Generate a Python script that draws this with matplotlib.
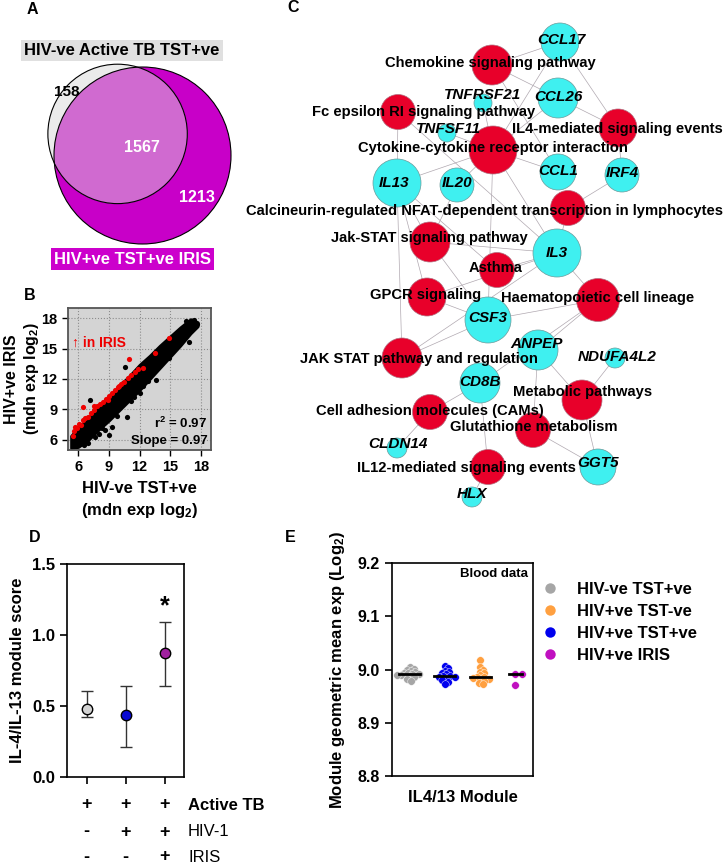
import numpy as np
import matplotlib
matplotlib.use("Agg")
import matplotlib.pyplot as plt
import matplotlib.transforms as mtrans
from matplotlib.patches import Circle
from matplotlib.lines import Line2D

plt.rcParams["font.family"] = ["Liberation Sans", "DejaVu Sans"]
plt.rcParams["font.weight"] = "bold"
plt.rcParams["axes.labelweight"] = "bold"
plt.rcParams["mathtext.fontset"] = "custom"
plt.rcParams["mathtext.rm"] = "Liberation Sans:bold"
plt.rcParams["mathtext.it"] = "Liberation Sans:italic:bold"
plt.rcParams["mathtext.bf"] = "Liberation Sans:bold"

#? ---- A: Venn counts
venn_only_tb = 158
venn_both = 1567
venn_only_iris = 1213

#? ---- B: scatter (data units)
band_x = [5.3, 6.0, 7.0, 8.0, 9.0, 10.0, 11.0, 12.0, 13.0, 14.0, 15.0, 16.0, 17.0, 17.7]
band_lo = [5.2, 5.3, 6.0, 7.0, 7.9, 8.9, 9.9, 10.9, 12.0, 13.1, 14.2, 15.3, 16.5, 17.2]
band_hi = [6.4, 7.2, 8.2, 9.2, 10.2, 11.3, 12.3, 13.4, 14.3, 15.3, 16.2, 17.1, 17.9, 17.6]
black_x = [10.6, 14.1, 7.2, 10.8, 8.0, 9.0, 9.3, 7.0, 13.6, 14.9, 10.4, 12.3, 6.6, 8.6, 11.5, 16.8, 17.3, 6.2, 5.8,
           12.8, 16.6, 17.6, 7.6, 9.8, 12.0, 6.9, 8.3, 11.2]
black_y = [13.2, 13.9, 9.9, 8.3, 6.6, 6.5, 7.3, 5.7, 11.9, 14.1, 11.6, 11.3, 5.5, 7.0, 10.2, 15.6, 17.8, 5.6, 5.4,
           11.8, 17.7, 17.4, 6.3, 8.4, 10.6, 6.1, 7.2, 9.8]
red_x = [5.5, 5.6, 5.7, 5.9, 6.1, 6.3, 6.5, 6.7, 7.0, 7.3, 7.5, 7.8, 8.1, 8.4, 8.7, 9.0, 9.3,
         9.6, 9.9, 10.2, 10.5, 10.9, 11.2, 11.6, 11.9, 12.3, 13.5, 14.9, 6.5, 7.5, 11.0, 8.9, 10.0]
red_y = [6.4, 6.9, 7.3, 7.2, 7.6, 7.5, 8.0, 8.2, 8.3, 8.6, 8.9, 9.3, 9.5, 9.7, 10.0, 10.3, 10.6,
         10.9, 11.2, 11.5, 11.7, 12.1, 12.4, 12.7, 13.0, 13.1, 14.6, 16.0, 9.25, 9.3, 14.0, 9.9, 11.3]
b_ticks = [6, 9, 12, 15, 18]

#? ---- C: network (pixel layout of the panel)
path_names = ["Chemokine signaling pathway", "Fc epsilon RI signaling pathway", "IL4-mediated signaling events",
              "Cytokine-cytokine receptor interaction", "Calcineurin-regulated NFAT-dependent transcription in lymphocytes",
              "Jak-STAT signaling pathway", "Asthma", "GPCR signaling", "Haematopoietic cell lineage",
              "JAK STAT pathway and regulation", "Metabolic pathways", "Cell adhesion molecules (CAMs)",
              "Glutathione metabolism", "IL12-mediated signaling events"]
path_keys = ["chemo", "fc", "il4", "cyto", "calc", "jak", "asthma", "gpcr", "haem", "jakp", "metab", "cams", "glut", "il12"]
path_x = [492, 398, 618, 493, 568, 430, 497, 427, 598, 402, 582, 430, 533, 488]
path_y = [65, 112, 128, 150, 208, 242, 270, 297, 300, 358, 400, 412, 430, 467]
path_r = [20, 17.5, 19, 24, 17.5, 20, 17.5, 19, 21.5, 20, 20, 17.5, 17.5, 17.5]
path_lx = [490, 424, 617, 493, 484, 429, 496, 426, 598, 419, 583, 430, 534, 466]
path_ly = [63, 112, 129, 148, 211, 238, 268, 295, 298, 359, 392, 411, 427, 468]

gene_names = ["CCL17", "TNFRSF21", "CCL26", "TNFSF11", "CCL1", "IRF4", "IL13", "IL20", "IL3", "CSF3",
              "ANPEP", "NDUFA4L2", "CD8B", "CLDN14", "GGT5", "HLX"]
gene_x = [560, 483, 558, 447, 558, 622, 397, 457, 557, 488, 538, 615, 480, 397, 598, 472]
gene_y = [42, 103, 98, 133, 172, 175, 183, 185, 253, 320, 350, 358, 383, 448, 467, 497]
gene_r = [19, 9, 20, 9, 18, 17, 24, 17, 24, 23, 20, 10, 20, 10, 18, 10]
gene_lx = [561, 483, 558, 448, 558, 622, 394, 457, 557, 488, 537, 617, 480, 398, 598, 472]
gene_ly = [40, 95, 97, 129, 171, 173, 183, 183, 253, 318, 344, 357, 382, 444, 463, 494]

edges = [("chemo", "CCL17"), ("chemo", "CCL26"), ("chemo", "CCL1"),
         ("il4", "CCL17"), ("il4", "CCL26"), ("il4", "IRF4"),
         ("cyto", "CCL17"), ("cyto", "CCL26"), ("cyto", "CCL1"), ("cyto", "TNFSF11"), ("cyto", "TNFRSF21"),
         ("cyto", "IL13"), ("cyto", "IL20"), ("cyto", "IL3"), ("cyto", "CSF3"),
         ("fc", "IL13"), ("fc", "IL3"), ("calc", "IRF4"), ("calc", "IL3"),
         ("jak", "IL13"), ("jak", "IL20"), ("jak", "IL3"), ("jak", "CSF3"),
         ("asthma", "IL3"), ("asthma", "IL13"), ("gpcr", "IL3"), ("gpcr", "CSF3"), ("gpcr", "IL13"),
         ("haem", "IL3"), ("haem", "CSF3"), ("haem", "ANPEP"), ("haem", "CD8B"),
         ("jakp", "IL13"), ("jakp", "CSF3"), ("jakp", "IL3"),
         ("metab", "ANPEP"), ("metab", "NDUFA4L2"), ("metab", "GGT5"),
         ("glut", "ANPEP"), ("glut", "GGT5"), ("cams", "CD8B"), ("cams", "CLDN14"),
         ("il12", "CD8B"), ("il12", "HLX")]

#? ---- D: module score
d_pos = [1, 2, 3]
d_mean = [0.48, 0.435, 0.875]
d_lo = [0.425, 0.213, 0.643]
d_hi = [0.608, 0.641, 1.095]
d_colors = ["#d3d3d3", "#0a0ad2", "#a0209f"]
d_rows = ["Active TB", "HIV-1", "IRIS"]
d_signs = [["+", "+", "+"], ["-", "+", "+"], ["-", "-", "+"]]

#? ---- E: blood data
e_groups = ["HIV-ve TST+ve", "HIV+ve TST+ve", "HIV+ve TST-ve", "HIV+ve IRIS"]
e_colors = {"HIV-ve TST+ve": "#a6a6a6", "HIV+ve TST-ve": "#ffa040",
            "HIV+ve TST+ve": "#0000ee", "HIV+ve IRIS": "#c010c0"}
gray_vals = [9.004, 9.001, 8.999, 8.997, 8.995, 8.994, 8.993, 8.992, 8.991, 8.990, 8.989, 8.987, 8.985, 8.982, 8.979]
blue_vals = [9.006, 9.002, 8.998, 8.996, 8.993, 8.991, 8.988, 8.987, 8.986, 8.985, 8.983, 8.980, 8.977, 8.973]
orange_vals = [9.017, 9.004, 9.000, 8.996, 8.993, 8.989, 8.986, 8.985, 8.984, 8.983, 8.981, 8.978, 8.975, 8.972]
purple_vals = [8.991, 8.991, 8.970]
e_vals = [gray_vals, blue_vals, orange_vals, purple_vals]
legend_order = ["HIV-ve TST+ve", "HIV+ve TST-ve", "HIV+ve TST+ve", "HIV+ve IRIS"]

W, H = 726, 866
fig = plt.figure(figsize=(W / 100, H / 100), dpi=100)
bg = fig.add_axes([0, 0, 1, 1])
bg.set_xlim(0, W)
bg.set_ylim(H, 0)
bg.axis("off")


def px_axes(x0, y0, x1, y1):
    return fig.add_axes([x0 / W, 1 - y1 / H, (x1 - x0) / W, (y1 - y0) / H])


for lab, lx, ly in [("A", 32, 9), ("B", 30, 295), ("C", 293, 8), ("D", 35, 538), ("E", 290, 538)]:
    bg.text(lx, ly, lab, fontsize=11.5, ha="center", va="center")

#? ---------------- A
set_tb = venn_only_tb + venn_both
set_iris = venn_only_iris + venn_both
r_big = 88.5
r_small = r_big * np.sqrt(set_tb / set_iris)


def lens(r1, r2, d):
    a1 = r1 ** 2 * np.arccos((d ** 2 + r1 ** 2 - r2 ** 2) / (2 * d * r1))
    a2 = r2 ** 2 * np.arccos((d ** 2 + r2 ** 2 - r1 ** 2) / (2 * d * r2))
    a3 = 0.5 * np.sqrt((-d + r1 + r2) * (d + r1 - r2) * (d - r1 + r2) * (d + r1 + r2))
    return a1 + a2 - a3


target = venn_both / set_tb * np.pi * r_small ** 2
lo, hi = r_big - r_small + 1e-6, r_big + r_small - 1e-6
for _ in range(60):
    mid = (lo + hi) / 2
    if lens(r_small, r_big, mid) > target:
        lo = mid
    else:
        hi = mid
dist = (lo + hi) / 2
big_c = np.array([142.5, 155.5])
u = np.array([-22.5, -19.5]) / np.hypot(22.5, 19.5)
small_c = big_c + dist * u

big = Circle(big_c, r_big, fc="#c800c8", ec="none")
bg.add_patch(big)
bg.add_patch(Circle(small_c, r_small, fc="#ebebeb", ec="none"))
inter = Circle(small_c, r_small, fc="#d06ad0", ec="none")
bg.add_patch(inter)
inter.set_clip_path(big)
bg.add_patch(Circle(big_c, r_big, fill=False, ec="black", lw=0.8))
bg.add_patch(Circle(small_c, r_small, fill=False, ec="black", lw=0.8))
bg.text(67, 92, str(venn_only_tb), fontsize=11, ha="center", va="center")
bg.text(142, 147, str(venn_both), fontsize=11.5, color="white", ha="center", va="center")
bg.text(197, 197, str(venn_only_iris), fontsize=11.5, color="white", ha="center", va="center")
bg.text(122, 50.5, "HIV-ve Active TB TST+ve", fontsize=12, ha="center", va="center",
        bbox=dict(boxstyle="square,pad=0.2", fc="#e0e0e0", ec="none"))
bg.text(132.5, 259, "HIV+ve TST+ve IRIS", fontsize=12, color="white", ha="center", va="center",
        bbox=dict(boxstyle="square,pad=0.2", fc="#cc00cc", ec="none"))

#? ---------------- C
pos = {}
for k, x, y in zip(path_keys, path_x, path_y):
    pos[k] = (x, y)
for k, x, y in zip(gene_names, gene_x, gene_y):
    pos[k] = (x, y)
for a, b in edges:
    bg.plot([pos[a][0], pos[b][0]], [pos[a][1], pos[b][1]], color="#b0a8b0", lw=0.5, zorder=1)
for x, y, r in zip(path_x, path_y, path_r):
    bg.add_patch(Circle((x, y), r, fc="#e8002a", ec="#b07080", lw=0.5, zorder=2))
for x, y, r in zip(gene_x, gene_y, gene_r):
    bg.add_patch(Circle((x, y), r, fc="#3ff0f0", ec="#6a9a9a", lw=0.5, zorder=2))
for name, x, y in zip(path_names, path_lx, path_ly):
    bg.text(x, y, name, fontsize=10.6, ha="center", va="center", zorder=3)
for name, x, y in zip(gene_names, gene_lx, gene_ly):
    bg.text(x, y, name, fontsize=11, style="italic", ha="center", va="center", zorder=3)

#? ---------------- B
ax_b = px_axes(68, 308, 211, 450)
ax_b.set_facecolor("#d4d4d4")
ax_b.fill_between(band_x, band_lo, band_hi, color="black", lw=2, zorder=2)
ax_b.scatter(black_x, black_y, s=14, color="black", lw=0, zorder=2)
ax_b.scatter(red_x, red_y, s=14, color="#ee0000", lw=0, zorder=3)
ax_b.set_xlim(5, 19)
ax_b.set_ylim(5, 19)
ax_b.set_xticks(b_ticks)
ax_b.set_yticks(b_ticks)
ax_b.grid(True, ls=":", color="#8c8c8c", lw=0.8)
ax_b.set_axisbelow(True)
ax_b.tick_params(labelsize=10.5, length=4, width=1, direction="out")
for s in ax_b.spines.values():
    s.set_linewidth(1.3)
    s.set_color("#555555")
ax_b.text(5.4, 15.6, "\u2191 in IRIS", color="#ee0000", fontsize=10, va="center")
ax_b.text(0.975, 0.19, "r$^2$ = 0.97", transform=ax_b.transAxes, ha="right", va="center", fontsize=9.5)
ax_b.text(0.975, 0.065, "Slope = 0.97", transform=ax_b.transAxes, ha="right", va="center", fontsize=9.5)
ax_b.set_xlabel("HIV-ve TST+ve\n(mdn exp log$_2$)", fontsize=12, labelpad=5, linespacing=1.3)
ax_b.set_ylabel("HIV+ve IRIS\n(mdn exp log$_2$)", fontsize=11.5, labelpad=0, linespacing=1.25)

#? ---------------- D
ax_d = px_axes(67, 564, 184, 777)
for p, m, l, h, c in zip(d_pos, d_mean, d_lo, d_hi, d_colors):
    ax_d.errorbar([p], [m], yerr=[[m - l], [h - m]], fmt="o", ms=7.5, mfc=c, mec="black", mew=1,
                  ecolor="#333333", elinewidth=1, capsize=4, capthick=1)
ax_d.text(3, 1.2, "*", fontsize=18, ha="center", va="center")
ax_d.set_xlim(0.5, 3.5)
ax_d.set_ylim(0, 1.5)
ax_d.set_yticks([0, 0.5, 1.0, 1.5])
ax_d.set_yticklabels(["0.0", "0.5", "1.0", "1.5"])
ax_d.set_xticks(d_pos)
ax_d.set_xticklabels([])
ax_d.tick_params(labelsize=12, length=5, width=1.2, direction="out")
for s in ax_d.spines.values():
    s.set_linewidth(1.2)
ax_d.set_ylabel("IL-4/IL-13 module score", fontsize=12, labelpad=5)
tr = mtrans.blended_transform_factory(ax_d.transData, bg.transData)
row_y = [805, 832, 857]
for row, signs, y in zip(d_rows, d_signs, row_y):
    for p, sg in zip(d_pos, signs):
        bg.text(p, y, sg, transform=tr, fontsize=13, ha="center", va="center")
    bg.text(188, y, row, fontsize=12, ha="left", va="center",
            weight="bold" if row == "Active TB" else "normal")

#? ---------------- E
ax_e = px_axes(392, 563, 533, 776)
ax_e.set_xlim(0.5, 4.5)
ax_e.set_ylim(8.8, 9.2)
x_ppu = 141 / 4.0
y_ppu = 213 / 0.4


def swarm(vals, min_d=3.4, step=1.4):
    vals = np.asarray(vals)
    offs = np.zeros(len(vals))
    placed = []
    for i in np.argsort(-vals):
        y = vals[i] * y_ppu
        for k in range(40):
            cands = [0.0] if k == 0 else [k * step, -k * step]
            done = False
            for off in cands:
                if all((off - px) ** 2 + (y - py) ** 2 >= min_d ** 2 for px, py in placed):
                    offs[i] = off
                    placed.append((off, y))
                    done = True
                    break
            if done:
                break
    return offs / x_ppu


for gi, (g, vals) in enumerate(zip(e_groups, e_vals)):
    xc = gi + 1
    offs = swarm(vals) if len(vals) > 3 else swarm(vals, min_d=7.0, step=3.5)
    ax_e.scatter(xc + offs, vals, s=30, color=e_colors[g], ec="white", lw=0.3, zorder=2)
    hw = 0.3 if len(vals) > 3 else 0.18
    med = np.median(vals)
    ax_e.plot([xc - hw, xc + hw], [med, med], color="black", lw=2, zorder=3)
ax_e.set_yticks([8.8, 8.9, 9.0, 9.1, 9.2])
ax_e.set_yticklabels(["8.8", "8.9", "9.0", "9.1", "9.2"])
ax_e.set_xticks([])
ax_e.tick_params(labelsize=11.5, length=5, width=1.2, direction="out")
for s in ax_e.spines.values():
    s.set_linewidth(1.2)
ax_e.text(0.965, 0.975, "Blood data", transform=ax_e.transAxes, ha="right", va="top", fontsize=9.5)
ax_e.set_xlabel("IL4/13 Module", fontsize=12, labelpad=10)
ax_e.set_ylabel("Module geometric mean exp (Log$_2$)", fontsize=12, labelpad=8)

handles = [Line2D([], [], marker="o", ls="none", ms=7.5, mfc=e_colors[g], mec="none") for g in legend_order]
fig.legend(handles, legend_order, loc="upper left", bbox_to_anchor=(542 / W, 1 - 582 / H), frameon=False,
           prop={"weight": "bold", "size": 12}, handletextpad=1.1, labelspacing=0.42, handlelength=1.0,
           borderaxespad=0, borderpad=0)

fig.savefig("out.png", dpi=100)
